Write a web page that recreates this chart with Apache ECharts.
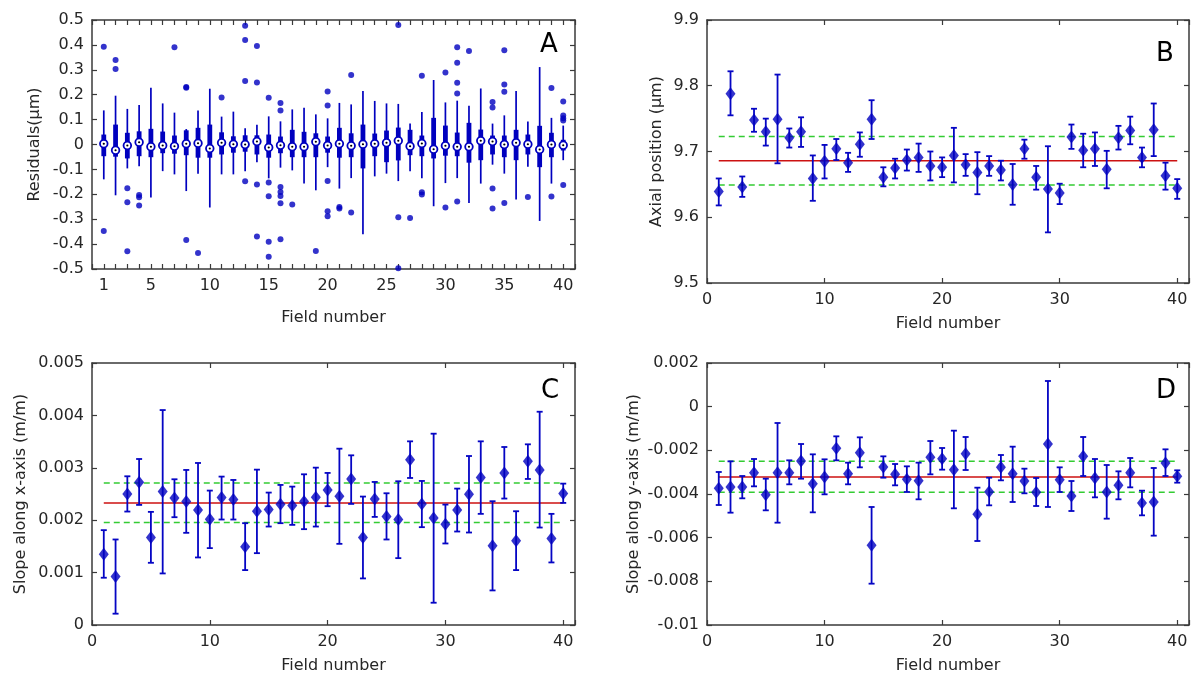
<!DOCTYPE html>
<html>
<head>
<meta charset="utf-8">
<script src="https://cdn.jsdelivr.net/npm/echarts@6/dist/echarts.min.js"></script>
<style>html,body{margin:0;padding:0;background:#fff}#c{width:1192px;height:675px}</style>
</head>
<body>
<div id="c"></div>
<script>
// ---------- DATA ----------
const fields = [1,2,3,4,5,6,7,8,9,10,11,12,13,14,15,16,17,18,19,20,21,22,23,24,25,26,27,28,29,30,31,32,33,34,35,36,37,38,39,40];
const xLabelsA = [1,5,10,15,20,25,30,35,40];

// Panel A: residual box plots (µm)
const aMedian  = [0.003,-0.023,-0.004,0.009,-0.009,-0.004,-0.007,0.003,0.005,-0.016,0.007,0.001,0.000,0.012,-0.012,-0.003,-0.009,-0.009,0.011,-0.004,0.003,-0.005,0.001,0.003,0.007,0.015,-0.007,0.004,-0.019,-0.005,-0.009,-0.009,0.015,0.012,0.000,0.007,0.001,-0.020,0.000,-0.003];
const aBoxLo   = [-0.047,-0.049,-0.056,-0.047,-0.051,-0.035,-0.037,-0.043,-0.053,-0.053,-0.040,-0.033,-0.029,-0.040,-0.053,-0.035,-0.051,-0.051,-0.051,-0.033,-0.053,-0.051,-0.096,-0.047,-0.071,-0.064,-0.043,-0.047,-0.056,-0.045,-0.047,-0.073,-0.063,-0.040,-0.051,-0.063,-0.040,-0.091,-0.051,-0.024];
const aBoxHi   = [0.040,0.080,0.047,0.053,0.063,0.052,0.036,0.057,0.067,0.080,0.049,0.033,0.037,0.037,0.040,0.032,0.059,0.051,0.045,0.032,0.067,0.045,0.080,0.044,0.056,0.068,0.059,0.036,0.107,0.076,0.048,0.087,0.060,0.036,0.036,0.059,0.040,0.075,0.047,0.019];
const aWhiskLo = [-0.140,-0.204,-0.096,-0.087,-0.213,-0.107,-0.120,-0.187,-0.117,-0.253,-0.120,-0.120,-0.107,-0.071,-0.136,-0.093,-0.104,-0.157,-0.184,-0.091,-0.177,-0.135,-0.360,-0.128,-0.117,-0.147,-0.107,-0.136,-0.248,-0.155,-0.135,-0.235,-0.157,-0.081,-0.117,-0.221,-0.089,-0.307,-0.157,-0.063];
const aWhiskHi = [0.137,0.196,0.143,0.159,0.228,0.165,0.128,0.062,0.137,0.224,0.112,0.132,0.065,0.079,0.113,0.093,0.141,0.148,0.121,0.105,0.167,0.161,0.215,0.175,0.165,0.163,0.084,0.131,0.259,0.169,0.176,0.156,0.225,0.084,0.117,0.215,0.092,0.311,0.107,0.076];
const aOutliers = [
  [1,0.393],[1,-0.347],
  [2,0.339],[2,0.303],
  [3,-0.176],[3,-0.232],[3,-0.429],
  [4,-0.203],[4,-0.212],[4,-0.245],
  [7,0.391],
  [8,0.231],[8,0.228],[8,-0.384],
  [9,-0.436],
  [11,0.189],
  [13,0.477],[13,0.420],[13,0.255],[13,-0.148],
  [14,0.396],[14,0.249],[14,-0.161],[14,-0.369],
  [15,0.188],[15,-0.153],[15,-0.208],[15,-0.391],[15,-0.451],
  [16,0.167],[16,0.137],[16,-0.171],[16,-0.191],[16,-0.207],[16,-0.236],[16,-0.381],
  [17,-0.241],
  [19,-0.428],
  [20,0.213],[20,0.157],[20,-0.147],[20,-0.268],[20,-0.288],
  [21,-0.251],[21,-0.257],
  [22,0.279],[22,-0.273],
  [26,0.480],[26,-0.292],[26,-0.497],
  [27,-0.295],
  [28,0.276],[28,-0.192],[28,-0.201],
  [30,0.289],[30,-0.253],
  [31,0.391],[31,0.328],[31,0.248],[31,0.205],[31,-0.229],
  [32,0.376],
  [34,0.171],[34,0.149],[34,-0.177],[34,-0.257],
  [35,0.379],[35,0.241],[35,0.212],[35,-0.235],
  [37,-0.211],
  [39,0.227],[39,-0.209],
  [40,0.173],[40,0.116],[40,0.105],[40,0.096],[40,-0.163]
];

// Panel B: axial position (µm)
const bVal = [9.639,9.788,9.646,9.748,9.730,9.749,9.721,9.730,9.659,9.685,9.704,9.683,9.711,9.749,9.661,9.675,9.687,9.691,9.678,9.676,9.694,9.680,9.668,9.678,9.672,9.650,9.704,9.661,9.643,9.637,9.722,9.702,9.704,9.673,9.721,9.732,9.691,9.733,9.663,9.644];
const bLo  = [9.618,9.755,9.631,9.730,9.709,9.682,9.706,9.707,9.625,9.659,9.687,9.669,9.692,9.719,9.647,9.659,9.671,9.669,9.656,9.661,9.653,9.663,9.635,9.663,9.656,9.619,9.689,9.642,9.577,9.620,9.704,9.676,9.678,9.644,9.703,9.711,9.676,9.693,9.642,9.628];
const bHi  = [9.659,9.822,9.662,9.765,9.750,9.817,9.735,9.752,9.694,9.710,9.719,9.698,9.729,9.778,9.676,9.689,9.703,9.712,9.700,9.691,9.736,9.696,9.699,9.693,9.686,9.681,9.718,9.678,9.708,9.651,9.741,9.727,9.729,9.701,9.739,9.753,9.706,9.773,9.683,9.658];
const bMean = 9.686;
const bBand = [9.649, 9.723];

// Panel C: slope along x-axis (m/m)
const cVal = [0.001352,0.000927,0.002502,0.002724,0.001670,0.002546,0.002425,0.002356,0.002197,0.002019,0.002432,0.002394,0.001492,0.002171,0.002203,0.002305,0.002279,0.002356,0.002438,0.002578,0.002457,0.002787,0.001670,0.002406,0.002070,0.002013,0.003156,0.002311,0.002044,0.001924,0.002197,0.002495,0.002813,0.001511,0.002902,0.001606,0.003124,0.002959,0.001651,0.002508];
const cLo  = [0.000902,0.000216,0.002165,0.002292,0.001187,0.000984,0.002057,0.001759,0.001289,0.001467,0.002013,0.002013,0.001048,0.001371,0.001879,0.001943,0.001911,0.001829,0.001879,0.002267,0.001549,0.002311,0.000889,0.002063,0.001632,0.001276,0.002806,0.001867,0.000425,0.001556,0.001784,0.001765,0.002121,0.000660,0.002413,0.001048,0.002787,0.001860,0.001194,0.002330];
const cHi  = [0.001810,0.001632,0.002838,0.003168,0.002159,0.004102,0.002781,0.002959,0.003092,0.002565,0.002832,0.002768,0.001943,0.002965,0.002527,0.002673,0.002641,0.002876,0.003003,0.002902,0.003365,0.003238,0.002451,0.002730,0.002514,0.002743,0.003505,0.002749,0.003651,0.002298,0.002603,0.003225,0.003505,0.002362,0.003397,0.002171,0.003448,0.004070,0.002121,0.002698];
const cMean = 0.002330;
const cBand = [0.001956, 0.002711];

// Panel D: slope along y-axis (m/m)
const dVal = [-0.003740,-0.003679,-0.003679,-0.003023,-0.004031,-0.003023,-0.003023,-0.002489,-0.003527,-0.003221,-0.001908,-0.003069,-0.002107,-0.006351,-0.002763,-0.003099,-0.003328,-0.003389,-0.002321,-0.002390,-0.002885,-0.002153,-0.004931,-0.003893,-0.002779,-0.003069,-0.003405,-0.003924,-0.001710,-0.003344,-0.004092,-0.002275,-0.003267,-0.003908,-0.003603,-0.003023,-0.004412,-0.004366,-0.002580,-0.003191];
const dLo  = [-0.004504,-0.004855,-0.004198,-0.003649,-0.004748,-0.005313,-0.003557,-0.003298,-0.004840,-0.004015,-0.002458,-0.003557,-0.002779,-0.008107,-0.003252,-0.003603,-0.003908,-0.004244,-0.003099,-0.002885,-0.004656,-0.002901,-0.006153,-0.004519,-0.003374,-0.004366,-0.003969,-0.004550,-0.004595,-0.003908,-0.004779,-0.003176,-0.004153,-0.005130,-0.004244,-0.003695,-0.004977,-0.005908,-0.003176,-0.003481];
const dHi  = [-0.002992,-0.002504,-0.003176,-0.002397,-0.003298,-0.000748,-0.002458,-0.001710,-0.002183,-0.002412,-0.001359,-0.002565,-0.001405,-0.004595,-0.002275,-0.002626,-0.002733,-0.002565,-0.001573,-0.001893,-0.001099,-0.001389,-0.003710,-0.003252,-0.002214,-0.001832,-0.002840,-0.003267,0.001176,-0.002779,-0.003405,-0.001389,-0.002397,-0.002672,-0.002962,-0.002351,-0.003847,-0.002809,-0.001954,-0.002916];
const dMean = -0.003221;
const dBand = [-0.003924, -0.002504];

// ---------- STYLE ----------
const BLUE = '#0000bf';
const EBLUE = '#0505c4';
const RED = '#cc1111';
const GREEN = '#33cc33';
const FRAME = '#3a3a3a';
const TXT = '#262626';
const FONT = 'DejaVu Sans';

const grids = [
  {left: 92,  top: 20,  width: 483, height: 249},
  {left: 707, top: 20,  width: 482, height: 263},
  {left: 92,  top: 363, width: 483, height: 262},
  {left: 707, top: 363, width: 482, height: 262}
];

function fmtNum(v){ return String(parseFloat(v.toFixed(6))); }

function xAxes(gi, cfg){
  const base = {gridIndex: gi, type: 'value', min: 0, max: 41, interval: cfg.interval,
    axisLine: {show: true, onZero: false, lineStyle: {color: FRAME, width: 1.5}},
    splitLine: {show: false},
    axisTick: {show: true, inside: true, length: 5, lineStyle: {color: FRAME, width: 1.2}}};
  return [
    Object.assign({}, base, {position: 'bottom',
      name: 'Field number', nameLocation: 'middle', nameGap: cfg.nameGap,
      nameTextStyle: {fontFamily: FONT, fontSize: 16, color: TXT},
      axisLabel: {show: true, margin: 9, fontFamily: FONT, fontSize: 16, color: TXT, formatter: cfg.fmt}}),
    Object.assign({}, base, {position: 'top', axisLabel: {show: false}})
  ];
}
function yAxes(gi, cfg){
  const base = {gridIndex: gi, type: 'value', min: cfg.min, max: cfg.max, interval: cfg.interval,
    axisLine: {show: true, onZero: false, lineStyle: {color: FRAME, width: 1.5}},
    splitLine: {show: false},
    axisTick: {show: true, inside: true, length: 5, lineStyle: {color: FRAME, width: 1.2}}};
  return [
    Object.assign({}, base, {position: 'left',
      name: cfg.name, nameLocation: 'middle', nameGap: cfg.nameGap,
      nameTextStyle: {fontFamily: FONT, fontSize: 16, color: TXT},
      axisLabel: {show: true, margin: 8, fontFamily: FONT, fontSize: 16, color: TXT, formatter: fmtNum}}),
    Object.assign({}, base, {position: 'right', axisLabel: {show: false}})
  ];
}

const fmtA = v => xLabelsA.indexOf(v) >= 0 ? String(v) : '';
const fmt10 = v => (v % 10 === 0) ? String(v) : '';

const xAxis = [].concat(
  xAxes(0, {interval: 1, fmt: fmtA, nameGap: 41}),
  xAxes(1, {interval: 10, fmt: fmt10, nameGap: 33}),
  xAxes(2, {interval: 10, fmt: fmt10, nameGap: 33}),
  xAxes(3, {interval: 10, fmt: fmt10, nameGap: 33})
);
const yAxis = [].concat(
  yAxes(0, {min: -0.5, max: 0.5, interval: 0.1, name: 'Residuals(\u03bcm)', nameGap: 49}),
  yAxes(1, {min: 9.5, max: 9.9, interval: 0.1, name: 'Axial position (\u03bcm)', nameGap: 42}),
  yAxes(2, {min: 0, max: 0.005, interval: 0.001, name: 'Slope along x-axis (m/m)', nameGap: 63}),
  yAxes(3, {min: -0.01, max: 0.002, interval: 0.002, name: 'Slope along y-axis (m/m)', nameGap: 65})
);

// ---------- RENDERERS ----------
function renderBox(params, api){
  const x = api.value(0);
  const wl = api.coord([x, api.value(1)]);
  const bl = api.coord([x, api.value(2)]);
  const md = api.coord([x, api.value(3)]);
  const bh = api.coord([x, api.value(4)]);
  const wh = api.coord([x, api.value(5)]);
  return {type: 'group', children: [
    {type: 'line', shape: {x1: wl[0], y1: wl[1], x2: wh[0], y2: wh[1]}, style: {stroke: BLUE, lineWidth: 1.7}},
    {type: 'rect', shape: {x: bh[0] - 2.4, y: bh[1], width: 4.8, height: bl[1] - bh[1]}, style: {fill: BLUE}},
    {type: 'circle', shape: {cx: md[0], cy: md[1], r: 3.8}, style: {fill: '#ffffff', stroke: BLUE, lineWidth: 1.8}},
    {type: 'circle', shape: {cx: md[0], cy: md[1], r: 1.1}, style: {fill: '#000000'}}
  ]};
}
function renderErr(params, api){
  const x = api.value(0);
  const lo = api.coord([x, api.value(1)]);
  const hi = api.coord([x, api.value(2)]);
  const c = 3;
  const st = {stroke: EBLUE, lineWidth: 1.8};
  return {type: 'group', children: [
    {type: 'line', shape: {x1: lo[0], y1: lo[1], x2: hi[0], y2: hi[1]}, style: st},
    {type: 'line', shape: {x1: lo[0] - c, y1: lo[1], x2: lo[0] + c, y2: lo[1]}, style: st},
    {type: 'line', shape: {x1: hi[0] - c, y1: hi[1], x2: hi[0] + c, y2: hi[1]}, style: st}
  ]};
}

function panelSeries(axIdx, val, lo, hi, mean, band){
  const xi = axIdx * 2, yi = axIdx * 2;
  return [
    {type: 'line', xAxisIndex: xi, yAxisIndex: yi, symbol: 'none', silent: true,
     data: [[fields[0], mean], [fields[fields.length - 1], mean]], lineStyle: {color: RED, width: 1.5}, z: 2},
    {type: 'line', xAxisIndex: xi, yAxisIndex: yi, symbol: 'none', silent: true,
     data: [[fields[0], band[0]], [fields[fields.length - 1], band[0]]], lineStyle: {color: GREEN, width: 1.5, type: [6, 4]}, z: 2},
    {type: 'line', xAxisIndex: xi, yAxisIndex: yi, symbol: 'none', silent: true,
     data: [[fields[0], band[1]], [fields[fields.length - 1], band[1]]], lineStyle: {color: GREEN, width: 1.5, type: [6, 4]}, z: 2},
    {type: 'custom', xAxisIndex: xi, yAxisIndex: yi, renderItem: renderErr, encode: {x: 0, y: [1, 2]},
     data: fields.map((f, i) => [f, lo[i], hi[i]]), z: 3},
    {type: 'scatter', xAxisIndex: xi, yAxisIndex: yi, symbol: 'diamond', symbolSize: [10, 13],
     itemStyle: {color: BLUE}, data: fields.map((f, i) => [f, val[i]]), z: 4}
  ];
}

const series = [
  {type: 'custom', xAxisIndex: 0, yAxisIndex: 0, renderItem: renderBox, encode: {x: 0, y: [1, 2, 3, 4, 5]},
   data: fields.map((f, i) => [f, aWhiskLo[i], aBoxLo[i], aMedian[i], aBoxHi[i], aWhiskHi[i]]), z: 3},
  {type: 'scatter', xAxisIndex: 0, yAxisIndex: 0, symbol: 'circle', symbolSize: 6,
   itemStyle: {color: BLUE}, data: aOutliers, z: 4}
].concat(
  panelSeries(1, bVal, bLo, bHi, bMean, bBand),
  panelSeries(2, cVal, cLo, cHi, cMean, cBand),
  panelSeries(3, dVal, dLo, dHi, dMean, dBand)
);

const letters = [['A', 540, 32], ['B', 1156, 41], ['C', 541, 378], ['D', 1156, 378]];

const chart = echarts.init(document.getElementById('c'), null, {renderer: 'canvas'});
chart.setOption({
  animation: false,
  backgroundColor: '#ffffff',
  grid: grids,
  xAxis: xAxis,
  yAxis: yAxis,
  series: series,
  graphic: letters.map(l => ({type: 'text', left: l[1], top: l[2], z: 10,
    style: {text: l[0], fontFamily: FONT, fontSize: 26, fill: '#000'}}))
});
</script>
</body>
</html>
